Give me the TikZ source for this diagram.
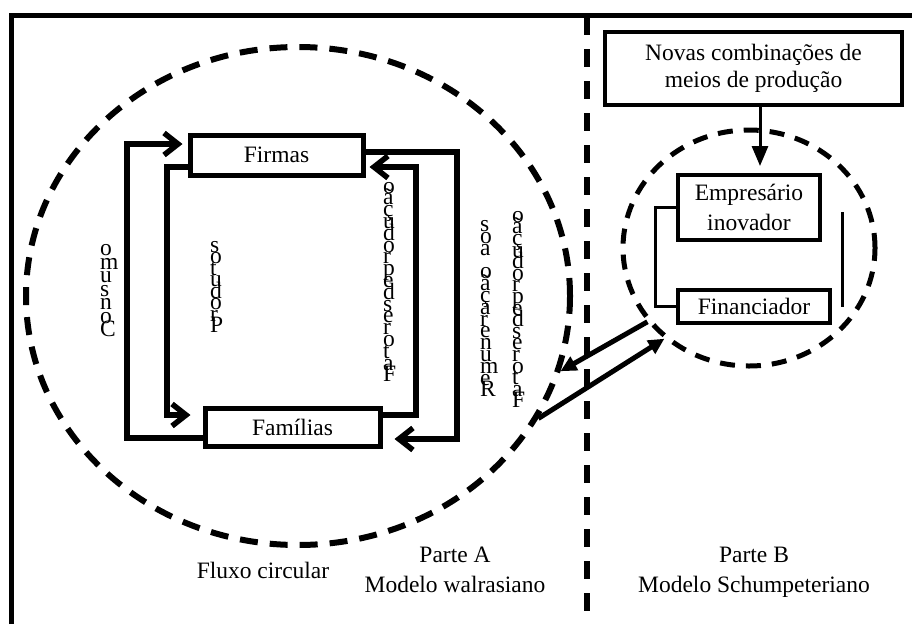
\documentclass[tikz,border=0pt]{standalone}
\usepackage{fontspec}
\setmainfont{Liberation Serif}
\usetikzlibrary{arrows.meta,shapes.geometric}
\newcommand\vlet[1]{\hbox{#1}}
\newcommand\vstk[2]{\vbox{\baselineskip=#1pt\lineskiplimit=-1000pt\lineskip=0pt #2}}
\begin{document}
\begin{tikzpicture}[x=1pt,y=-1pt,
  box/.style={draw, line width=5pt, inner sep=0pt, align=center, font=\fontsize{23.5}{28}\selectfont},
  flow/.style={line width=5.5pt, -{Straight Barb[length=14pt,width=22pt]}},
  vtext/.style={anchor=south west, inner sep=0pt, font=\fontsize{23.5}{28}\selectfont},
  lbl/.style={align=center, inner sep=0pt, font=\fontsize{23.5}{30}\selectfont},
  bigdash/.style={draw, ellipse, inner sep=0pt, line width=6pt, dash pattern=on 18pt off 12pt},
  smalldash/.style={draw, ellipse, inner sep=0pt, line width=5pt, dash pattern=on 15pt off 11pt},
  link/.style={line width=5pt, -{Triangle[length=16pt,width=15pt]}},
  thin/.style={line width=3pt}]
\useasboundingbox (0,0) rectangle (912,624);

% frame
\coordinate (fbl) at (11,624);
\coordinate (ftl) at (11,15);
\coordinate (ftr) at (912,15);
\draw[line width=5pt] (fbl) -- (ftl) -- (ftr);

% separator
\coordinate (s1) at (587,17);
\coordinate (s2) at (587,624);
\draw[line width=6pt, dash pattern=on 18pt off 14pt] (s1) -- (s2);

% circles
\node[bigdash, minimum width=544pt, minimum height=498pt] (fluxo) at (298,296) {};
\node[smalldash, minimum width=252pt, minimum height=236pt] (schump) at (749,248) {};

% Part A boxes
\node[box, minimum width=173pt, minimum height=40pt] (firm) at (276.5,155) {Firmas};
\node[box, minimum width=175pt, minimum height=38pt] (fam) at (292.5,427) {Famílias};

\coordinate (cx) at (127,0);
\coordinate (px) at (167,0);
\coordinate (fx) at (416,0);
\coordinate (ox) at (457,0);

\coordinate (consA) at ([yshift=-11pt]fam.west);
\coordinate (consB) at ([yshift=11pt]firm.west);
\draw[flow, shorten >=5pt] (consA) -- (consA -| cx) -- (consB -| cx) -- (consB);

\coordinate (prodA) at ([yshift=-12pt]firm.west);
\coordinate (prodB) at ([yshift=12pt]fam.west);
\draw[flow, shorten >=12pt] (prodA) -- (prodA -| px) -- (prodB -| px) -- (prodB);

\coordinate (fatA) at ([yshift=12pt]fam.east);
\coordinate (fatB) at ([yshift=-12pt]firm.east);
\draw[flow, shorten >=4pt] (fatA) -- (fatA -| fx) -- (fatB -| fx) -- (fatB);

\coordinate (remA) at ([yshift=3pt]firm.east);
\coordinate (remB) at ([yshift=-12pt]fam.east);
\draw[flow, shorten >=12pt] (remA) -- (remA -| ox) -- (remB -| ox) -- (remB);

% vertical texts
\node[vtext] (tcons) at (100,337) {\vstk{13.5}{\vlet{o}\vlet{m}\vlet{u}\vlet{s}\vlet{n}\vlet{o}\vlet{C}}};
\node[vtext] (tprod) at (210,333) {\vstk{11.5}{\vlet{s}\vlet{o}\vlet{t}\vlet{u}\vlet{d}\vlet{o}\vlet{r}\vlet{P}}};
\node[vtext] (tfat1) at (383,382) {\vstk{11.8}{\vlet{o}\vlet{ã}\vlet{ç}\vlet{u}\vlet{d}\vlet{o}\vlet{r}\vlet{p}\vlet{e}\vlet{d}\vlet{s}\vlet{e}\vlet{r}\vlet{o}\vlet{t}\vlet{a}\vlet{F}}};
\node[vtext] (trem) at (480,397) {\vstk{11.8}{\vlet{s}\vlet{o}\vlet{a}\vlet{}\vlet{o}\vlet{ã}\vlet{ç}\vlet{a}\vlet{r}\vlet{e}\vlet{n}\vlet{u}\vlet{m}\vlet{e}\vlet{R}}};
\node[vtext] (tfat2) at (512,408) {\vstk{11.6}{\vlet{o}\vlet{ã}\vlet{ç}\vlet{u}\vlet{d}\vlet{o}\vlet{r}\vlet{p}\vlet{e}\vlet{d}\vlet{s}\vlet{e}\vlet{r}\vlet{o}\vlet{t}\vlet{a}\vlet{F}}};

% Part B
\node[box, line width=3.5pt, minimum width=297pt, minimum height=73pt, font=\fontsize{23.5}{27}\selectfont] (nova) at (753.5,68.5) {Novas combinações de\\meios de produção};
\node[box, line width=4pt, minimum width=142pt, minimum height=65pt, font=\fontsize{23.5}{30}\selectfont] (emp) at (749,207.5) {Empresário\\inovador};
\node[box, line width=4pt, minimum width=152pt, minimum height=33pt] (fin) at (754,306.5) {Financiador};

\coordinate (ax) at (760,0);
\draw[thin, -{Triangle[length=20pt,width=16pt]}, shorten >=7pt] (nova.south -| ax) -- (emp.north -| ax);

\coordinate (lx) at (655,0);
\draw[thin] (emp.west) -- (emp.west -| lx) -- (fin.west -| lx) -- (fin.west);

\coordinate (v1) at (842,212);
\coordinate (v2) at (842,307);
\draw[thin] (v1) -- (v2);

% links between circles
\draw[link] (schump.216) -- (fluxo.-16);
\draw[link] (fluxo.-27) -- (schump.227);

% labels
\node[lbl] (lfluxo) at (263,570) {Fluxo circular};
\node[lbl] (lpa) at (455,570) {Parte A\\Modelo walrasiano};
\node[lbl] (lpb) at (754,572) {Parte B\\Modelo Schumpeteriano};
\end{tikzpicture}
\end{document}
